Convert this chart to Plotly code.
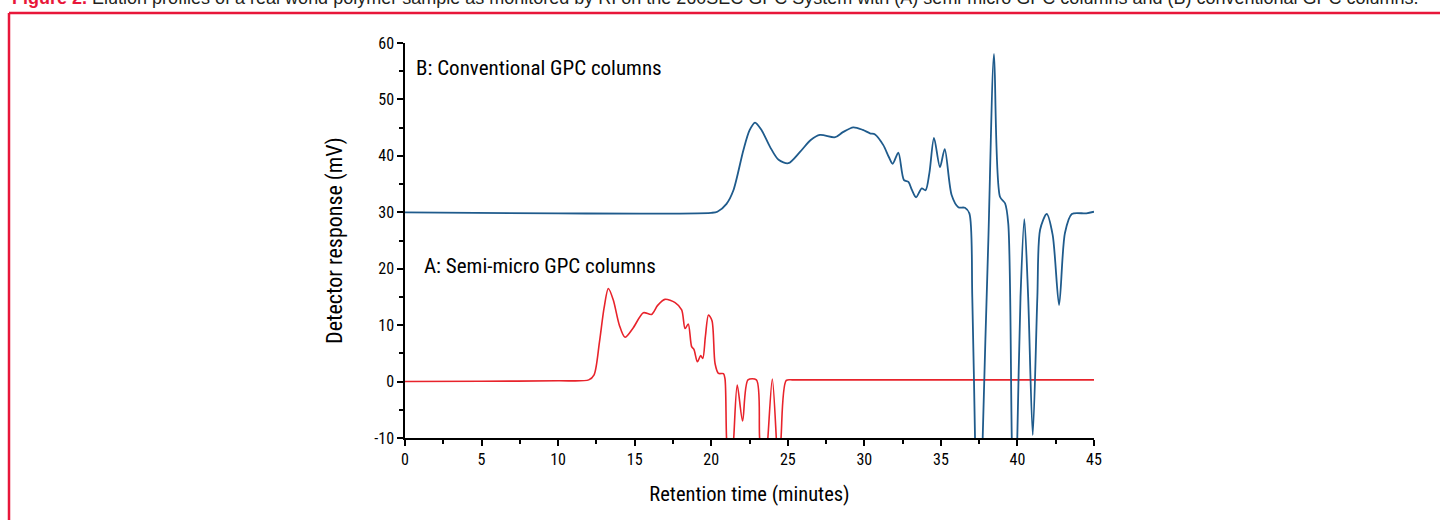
import plotly.graph_objects as go

# Series A: semi-micro GPC columns (red)
time_a = [0, 5, 10, 12.0, 12.35, 12.7, 13.0, 13.28, 13.6, 14.0, 14.37, 14.9, 15.57, 16.1, 16.5,
          16.98, 17.64, 18.07, 18.29, 18.5, 18.72, 18.87, 19.1, 19.31, 19.45, 19.62, 19.82,
          20.05, 20.25, 20.47, 20.8, 20.9, 21.0, 21.23, 21.47, 21.7, 22.05, 22.4, 22.95,
          23.16, 23.43, 23.7, 23.99, 24.25, 24.4, 24.56, 24.9, 25.3, 26, 28, 32, 40, 45]
resp_a = [0, 0.05, 0.15, 0.3, 1.2, 7, 13, 16.5, 14.5, 10, 7.85, 9.5, 12.2, 11.9, 13.5,
          14.57, 13.98, 12.7, 9.4, 10.2, 6.2, 5.7, 3.5, 4.6, 4.1, 8, 11.8,
          10.8, 3.2, 1.46, 1.4, 0.5, -10, -20, -10, -0.6, -7.0, 0.3, 0.3,
          -10, -20, -10, 0.46, -10, -20, -10, 0.2, 0.3, 0.3, 0.3, 0.3, 0.3, 0.3]

# Series B: conventional GPC columns (blue)
time_b = [0, 10, 20, 20.4, 21.0, 21.45, 22.1, 22.5, 22.86, 23.3, 23.84, 24.4, 25.04, 25.8,
          26.5, 27.1, 28.09, 28.6, 29.28, 29.9, 30.37, 30.7, 31.24, 31.6, 31.85, 32.22,
          32.59, 32.88, 33.1, 33.38, 33.75, 34.0, 34.25, 34.55, 34.94, 35.25, 35.7, 36.14,
          36.57, 36.86, 37.05, 37.23, 37.48, 37.73, 38.1, 38.47, 38.86, 39.19, 39.4, 39.63,
          39.8, 39.99, 40.2, 40.45, 40.7, 41.0, 41.3, 41.48, 41.91, 42.3, 42.72, 43.1,
          43.55, 44.5, 45]
resp_b = [30, 29.8, 29.9, 30.1, 31.5, 33.9, 41.0, 44.5, 45.9, 44.5, 41.6, 39.3, 38.7, 40.7,
          42.8, 43.7, 43.3, 44.2, 45.06, 44.6, 44.0, 43.8, 41.9, 39.8, 38.6, 40.56,
          35.7, 35.4, 34.0, 32.65, 34.25, 33.9, 37, 43.2, 38.0, 41.2, 33.06, 30.9,
          30.8, 29.8, 15, -10, -45, -10, 25.1, 58.05, 32.76, 31.6, 28, -10,
          -30, -10, 15, 28.8, 15, -9.47, 15, 26.9, 29.7, 26, 13.57, 26.3,
          29.7, 29.8, 30.1]

x_ticks = [0, 5, 10, 15, 20, 25, 30, 35, 40, 45]
y_ticks = [-10, 0, 10, 20, 30, 40, 50, 60]

label_a = "A: Semi-micro GPC columns"
label_b = "B: Conventional GPC columns"
caption_bold = "Figure 2."
caption_rest = (" Elution profiles of a real world polymer sample as monitored by RI on the 260SEC GPC "
                "System with (A) semi-micro GPC columns and (B) conventional GPC columns.")

FONT = "Liberation Sans Narrow, Roboto Condensed, DejaVu Sans Condensed, Arial Narrow, sans-serif"
CAP_FONT = "Liberation Sans, Arial, sans-serif"
RED = "#e8232b"
BLUE = "#1f5b8c"
FRAME = "#e8173a"

W, H = 1440, 520
L, R, T, B = 405, 346, 43, 82
plot_w = W - L - R
plot_h = H - T - B

fig = go.Figure()
fig.add_trace(go.Scatter(x=time_a, y=resp_a, mode="lines", line=dict(color=RED, width=1.6, shape="spline", smoothing=0.8),
                         name="A", showlegend=False, hoverinfo="skip"))
fig.add_trace(go.Scatter(x=time_b, y=resp_b, mode="lines", line=dict(color=BLUE, width=1.8, shape="spline", smoothing=0.8),
                         name="B", showlegend=False, hoverinfo="skip"))

axis_common = dict(showgrid=False, zeroline=False, showline=True, linecolor="black", linewidth=1.5,
                   ticks="outside", ticklen=6, tickwidth=1.5, tickcolor="black",
                   tickfont=dict(family=FONT, size=16, color="black"),
                   minor=dict(ticks="outside", ticklen=4, tickwidth=1.5, tickcolor="black"))

fig.update_xaxes(range=[0, 45], tickvals=x_ticks, ticktext=[str(v) for v in x_ticks],
                 minor_dtick=2.5,
                 title=dict(text="Retention time (minutes)", font=dict(family=FONT, size=20.5, color="black"), standoff=19),
                 **axis_common)
fig.update_yaxes(range=[-10, 60], tickvals=y_ticks, ticktext=[str(v) for v in y_ticks],
                 minor_dtick=5,
                 title=dict(text="Detector response (mV)", font=dict(family=FONT, size=22, color="black"), standoff=26),
                 **axis_common)

fig.add_annotation(x=0.6, y=55.6, xref="x", yref="y", text=label_b, showarrow=False, xanchor="left",
                   font=dict(family=FONT, size=21, color="black"))
fig.add_annotation(x=1.1, y=20.5, xref="x", yref="y", text=label_a, showarrow=False, xanchor="left",
                   font=dict(family=FONT, size=21, color="black"))

# partially visible caption at the top edge
cap_y_px = -2.0
fig.add_annotation(x=(10 - L) / plot_w, y=(H - B - cap_y_px) / plot_h, xref="paper", yref="paper",
                   text=f"<b><span style='color:{FRAME}'>{caption_bold}</span></b>{caption_rest}",
                   showarrow=False, xanchor="left", yanchor="middle",
                   font=dict(family=CAP_FONT, size=18, color="#231f20"))

# red frame lines
frame_top = (H - B - 13) / plot_h
frame_left = (9 - L) / plot_w
fig.add_shape(type="line", xref="paper", yref="paper", x0=frame_left, x1=(W - L + 5) / plot_w, y0=frame_top, y1=frame_top,
              line=dict(color=FRAME, width=2.5))
fig.add_shape(type="line", xref="paper", yref="paper", x0=frame_left, x1=frame_left, y0=frame_top, y1=-(B + 5) / plot_h,
              line=dict(color=FRAME, width=2.5))

fig.update_layout(
    width=W, height=H,
    margin=dict(l=L, r=R, t=T, b=B),
    paper_bgcolor="white", plot_bgcolor="white",
)

fig.write_html("out.html", config={"displayModeBar": False},
               post_script="document.body.style.margin='0';")
